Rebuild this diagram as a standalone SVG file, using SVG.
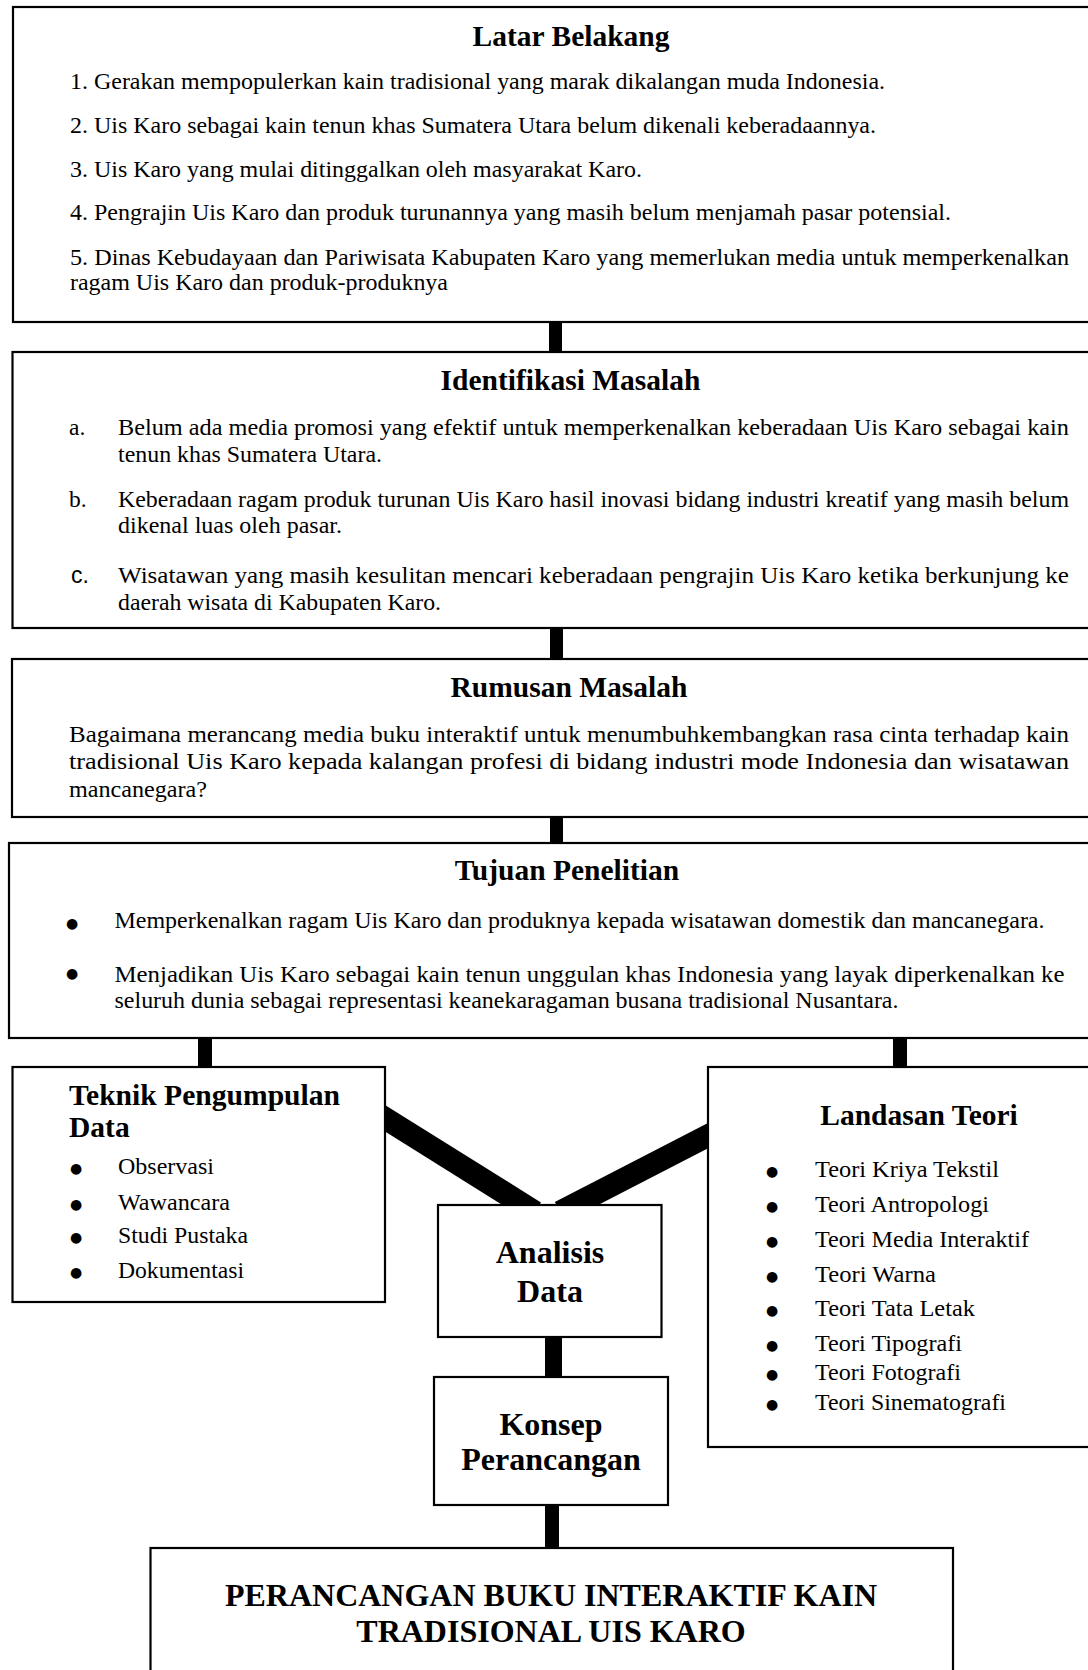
<svg xmlns="http://www.w3.org/2000/svg" width="1088" height="1670" viewBox="0 0 1088 1670">
<style>
.box{fill:#fff;stroke:#000;stroke-width:2.2}
.t{font-family:"Liberation Serif","Times New Roman",serif;font-size:23.5px;fill:#000}
.h{font-family:"Liberation Serif","Times New Roman",serif;font-size:29.5px;font-weight:bold;fill:#000}
.hc{text-anchor:middle}
.n{font-family:"Liberation Serif","Times New Roman",serif;font-size:32px;font-weight:bold;fill:#000;text-anchor:middle}
.b{font-family:"DejaVu Sans",sans-serif;font-size:14px;fill:#000;text-anchor:middle}
.bar{fill:#000}
.diag{stroke:#000;stroke-width:22.5;fill:none}
</style>
<rect width="1088" height="1670" fill="#fff"/>
<g id="connectors">
<rect class="bar" x="549" y="320" width="13" height="34"/>
<rect class="bar" x="550" y="626" width="13" height="35"/>
<rect class="bar" x="550" y="815" width="13" height="30"/>
<rect class="bar" x="198" y="1036" width="14" height="33"/>
<rect class="bar" x="893" y="1036" width="14" height="33"/>
<line class="diag" x1="377" y1="1113.3" x2="535" y2="1212"/>
<line class="diag" x1="716" y1="1131.4" x2="560" y2="1212"/>
<rect class="bar" x="545" y="1335" width="17" height="44"/>
<rect class="bar" x="545" y="1503" width="14" height="47"/>
</g>
<g id="latar-belakang">
<rect class="box" x="13" y="7" width="1120" height="315"/>
<text class="h hc" x="571" y="46">Latar Belakang</text>
<text class="t" x="70" y="89" textLength="815" lengthAdjust="spacingAndGlyphs">1. Gerakan mempopulerkan kain tradisional yang marak dikalangan muda Indonesia.</text>
<text class="t" x="70" y="133" textLength="806" lengthAdjust="spacingAndGlyphs">2. Uis Karo sebagai kain tenun khas Sumatera Utara belum dikenali keberadaannya.</text>
<text class="t" x="70" y="177" textLength="572" lengthAdjust="spacingAndGlyphs">3. Uis Karo yang mulai ditinggalkan oleh masyarakat Karo.</text>
<text class="t" x="70" y="220" textLength="881" lengthAdjust="spacingAndGlyphs">4. Pengrajin Uis Karo dan produk turunannya yang masih belum menjamah pasar potensial.</text>
<text class="t" x="70" y="265" textLength="999" lengthAdjust="spacingAndGlyphs">5. Dinas Kebudayaan dan Pariwisata Kabupaten Karo yang memerlukan media untuk memperkenalkan</text>
<text class="t" x="70" y="290" textLength="378" lengthAdjust="spacingAndGlyphs">ragam Uis Karo dan produk-produknya</text>
</g>
<g id="identifikasi-masalah">
<rect class="box" x="12.5" y="352" width="1120" height="276"/>
<text class="h hc" x="570.5" y="390">Identifikasi Masalah</text>
<text class="t" x="69" y="435">a.</text>
<text class="t" x="118" y="435" textLength="951" lengthAdjust="spacingAndGlyphs">Belum ada media promosi yang efektif untuk memperkenalkan keberadaan Uis Karo sebagai kain</text>
<text class="t" x="118" y="462" textLength="264" lengthAdjust="spacingAndGlyphs">tenun khas Sumatera Utara.</text>
<text class="t" x="69" y="507">b.</text>
<text class="t" x="118" y="507" textLength="951" lengthAdjust="spacingAndGlyphs">Keberadaan ragam produk turunan Uis Karo hasil inovasi bidang industri kreatif yang masih belum</text>
<text class="t" x="118" y="533" textLength="224" lengthAdjust="spacingAndGlyphs">dikenal luas oleh pasar.</text>
<text x="71" y="582.5" style="font-family:'Liberation Sans',Arial,sans-serif;font-size:23px;fill:#000">c.</text>
<text class="t" x="118" y="582.5" textLength="951" lengthAdjust="spacingAndGlyphs">Wisatawan yang masih kesulitan mencari keberadaan pengrajin Uis Karo ketika berkunjung ke</text>
<text class="t" x="118" y="610" textLength="323" lengthAdjust="spacingAndGlyphs">daerah wisata di Kabupaten Karo.</text>
</g>
<g id="rumusan-masalah">
<rect class="box" x="12" y="659" width="1120" height="158"/>
<text class="h hc" x="569" y="697">Rumusan Masalah</text>
<text class="t" x="69" y="742" textLength="1000" lengthAdjust="spacingAndGlyphs">Bagaimana merancang media buku interaktif untuk menumbuhkembangkan rasa cinta terhadap kain</text>
<text class="t" x="69" y="768.5" textLength="1000" lengthAdjust="spacingAndGlyphs">tradisional Uis Karo kepada kalangan profesi di bidang industri mode Indonesia dan wisatawan</text>
<text class="t" x="69" y="797" textLength="138" lengthAdjust="spacingAndGlyphs">mancanegara?</text>
</g>
<g id="tujuan-penelitian">
<rect class="box" x="9" y="843" width="1120" height="195"/>
<text class="h hc" x="567" y="880">Tujuan Penelitian</text>
<text class="b" x="72" y="928">●</text>
<text class="t" x="114.5" y="928" textLength="930" lengthAdjust="spacingAndGlyphs">Memperkenalkan ragam Uis Karo dan produknya kepada wisatawan domestik dan mancanegara.</text>
<text class="b" x="72" y="978">●</text>
<text class="t" x="114.5" y="981.5" textLength="950" lengthAdjust="spacingAndGlyphs">Menjadikan Uis Karo sebagai kain tenun unggulan khas Indonesia yang layak diperkenalkan ke</text>
<text class="t" x="114.5" y="1008" textLength="784" lengthAdjust="spacingAndGlyphs">seluruh dunia sebagai representasi keanekaragaman busana tradisional Nusantara.</text>
</g>
<g id="teknik-pengumpulan-data">
<rect class="box" x="12.5" y="1067" width="372.5" height="235"/>
<text class="h" x="69" y="1105" textLength="271" lengthAdjust="spacingAndGlyphs">Teknik Pengumpulan</text>
<text class="h" x="69" y="1137">Data</text>
<text class="b" x="76" y="1173">●</text><text class="t" x="118" y="1174" textLength="96" lengthAdjust="spacingAndGlyphs">Observasi</text>
<text class="b" x="76" y="1209">●</text><text class="t" x="118" y="1210" textLength="112" lengthAdjust="spacingAndGlyphs">Wawancara</text>
<text class="b" x="76" y="1242">●</text><text class="t" x="118" y="1243" textLength="130" lengthAdjust="spacingAndGlyphs">Studi Pustaka</text>
<text class="b" x="76" y="1277">●</text><text class="t" x="118" y="1278" textLength="126" lengthAdjust="spacingAndGlyphs">Dokumentasi</text>
</g>
<g id="landasan-teori">
<rect class="box" x="708" y="1067" width="420" height="380"/>
<text class="h hc" x="919" y="1125">Landasan Teori</text>
<text class="b" x="772" y="1176">●</text><text class="t" x="815" y="1177" textLength="184" lengthAdjust="spacingAndGlyphs">Teori Kriya Tekstil</text>
<text class="b" x="772" y="1211">●</text><text class="t" x="815" y="1212" textLength="174" lengthAdjust="spacingAndGlyphs">Teori Antropologi</text>
<text class="b" x="772" y="1246">●</text><text class="t" x="815" y="1247" textLength="214" lengthAdjust="spacingAndGlyphs">Teori Media Interaktif</text>
<text class="b" x="772" y="1281">●</text><text class="t" x="815" y="1282" textLength="121" lengthAdjust="spacingAndGlyphs">Teori Warna</text>
<text class="b" x="772" y="1315">●</text><text class="t" x="815" y="1316" textLength="160" lengthAdjust="spacingAndGlyphs">Teori Tata Letak</text>
<text class="b" x="772" y="1350">●</text><text class="t" x="815" y="1351" textLength="147" lengthAdjust="spacingAndGlyphs">Teori Tipografi</text>
<text class="b" x="772" y="1379">●</text><text class="t" x="815" y="1380" textLength="146" lengthAdjust="spacingAndGlyphs">Teori Fotografi</text>
<text class="b" x="772" y="1409">●</text><text class="t" x="815" y="1410" textLength="191" lengthAdjust="spacingAndGlyphs">Teori Sinematografi</text>
</g>
<g id="analisis-data">
<rect class="box" x="438" y="1205" width="223.5" height="132"/>
<text class="n" x="550" y="1263">Analisis</text>
<text class="n" x="550" y="1302">Data</text>
</g>
<g id="konsep-perancangan">
<rect class="box" x="434" y="1377" width="234" height="128"/>
<text class="n" x="551" y="1435">Konsep</text>
<text class="n" x="551" y="1470">Perancangan</text>
</g>
<g id="perancangan-buku">
<rect class="box" x="150.5" y="1548" width="802.5" height="140"/>
<text class="n" x="551" y="1606">PERANCANGAN BUKU INTERAKTIF KAIN</text>
<text class="n" x="551" y="1642">TRADISIONAL UIS KARO</text>
</g>
</svg>
